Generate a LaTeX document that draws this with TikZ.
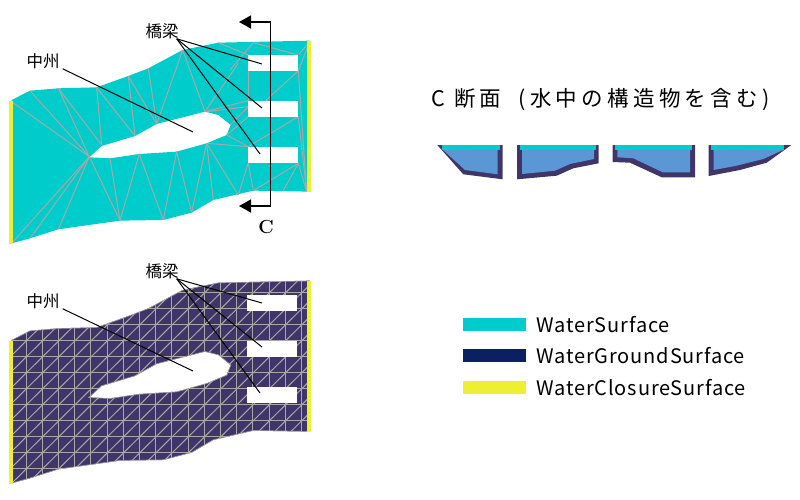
\documentclass[tikz,border=0pt]{standalone}
\usepackage{fontspec}
\usetikzlibrary{positioning, arrows.meta}
\newfontfamily\jpfont{Noto Sans CJK JP}
\newfontfamily\jptitle[LetterSpace=20]{Noto Sans CJK JP}
\newfontfamily\jplegend[LetterSpace=4.2]{Noto Sans CJK JP}
\definecolor{watertop}{HTML}{00CCCC}
\definecolor{waterbed}{HTML}{3F3568}
\definecolor{waterend}{HTML}{EEEE33}
\definecolor{waterin}{HTML}{5B97D5}
\definecolor{legendbed}{HTML}{0B1F63}
\definecolor{meshline}{HTML}{A8A8A8}
\newcommand{\riverline}{(35,300) -- (90,272) -- (175,265) -- (290,262) -- (385,228) -- (445,205) -- (548,150) -- (655,128) -- (930,122) -- (930,575) -- (760,572) -- (640,600) -- (575,638) -- (490,660) -- (360,662) -- (175,688) -- (90,715) -- (35,730) -- cycle}
\newcommand{\isleline}{(268,472) -- (305,438) -- (405,408) -- (470,372) -- (615,335) -- (655,345) -- (692,375) -- (680,405) -- (620,430) -- (530,455) -- (418,462) -- (330,475) -- cycle}
\tikzset{
  zoomed/.style={x=0.3333pt, y=-0.3333pt},
  hole/.style={fill=white},
  leader/.style={black, line width=1pt},
  mesh/.style={meshline, line width=1pt},
  edgeend/.style={waterend, line width=4pt},
  jplabel/.style={font=\jpfont\fontsize{16.5}{16.5}\selectfont, inner sep=0pt},
  legendbar/.style={minimum width=63pt, minimum height=13pt, inner sep=0pt},
  legendtext/.style={font=\jplegend\fontsize{20}{20}\selectfont, inner sep=0pt, anchor=west},
}
\begin{document}
\begin{tikzpicture}[x=1pt, y=-1pt]
  \useasboundingbox (0,0) rectangle (800,500);

  % upper plan
  \begin{scope}[zoomed]
    \fill[watertop, even odd rule] \riverline \isleline;
    \foreach \a/\b in {35/305, 90/272, 175/265, 35/730, 90/715, 175/688, 360/662}
      \draw[mesh] (\a,\b) -- (268,470);
    \foreach \a/\b/\c/\d in {
      175/265/305/435, 290/262/305/435, 290/262/405/408, 385/228/405/408,
      385/228/470/372, 445/205/470/372, 548/150/470/372, 548/150/615/335,
      715/190/615/335, 655/128/745/165, 760/128/690/210, 745/212/745/302,
      615/335/745/302, 620/335/745/320, 690/375/745/320, 680/405/745/350,
      680/405/745/440, 620/430/745/440, 620/430/715/585, 745/488/715/585,
      745/488/760/572, 760/572/895/490, 850/572/895/490, 920/575/895/490,
      895/350/920/575, 895/212/920/575, 745/440/895/350, 745/350/895/212,
      895/165/930/125, 895/212/930/125, 760/128/895/165, 330/475/360/662,
      418/462/360/662, 418/462/490/660, 530/455/490/660, 530/455/575/638,
      620/430/575/638, 620/430/640/600}
      \draw[mesh] (\a,\b) -- (\c,\d);
    \fill[hole] (745,165) rectangle (895,212);
    \fill[hole] (745,302) rectangle (895,350);
    \fill[hole] (745,440) rectangle (895,488);
    \draw[edgeend] (32,302) -- (32,732);
    \draw[edgeend] (928,122) -- (928,577);
  \end{scope}

  % lower plan
  \begin{scope}[yshift=-240pt, zoomed]
    \fill[waterbed, even odd rule] \riverline \isleline;
    \begin{scope}[even odd rule]
      \clip \riverline \isleline;
      \foreach \i in {0,...,18}
        \draw[mesh] ({30+\i*48.6},100) -- ({30+\i*48.6},760);
      \foreach \j in {0,...,14}
        \draw[mesh] (0,{111+\j*48}) -- (960,{111+\j*48});
      \foreach \i in {-1,...,18}
        \foreach \j in {0,...,14}
          \draw[mesh] ({30+\i*48.6},{111+\j*48}) -- ({30+(\i+1)*48.6},{111+(\j-1)*48});
      \draw[mesh] \riverline \isleline;
    \end{scope}
    \fill[hole] (741,165) rectangle (891,212);
    \fill[hole] (741,302) rectangle (891,350);
    \fill[hole] (741,440) rectangle (891,488);
    \draw[edgeend] (32,302) -- (32,732);
    \draw[edgeend] (928,122) -- (928,577);
  \end{scope}

  % labels and leaders
  \node[jplabel] (bridgeA) at (162,31) {橋梁};
  \node[jplabel] (isleA) at (43,61) {中州};
  \node[jplabel] (bridgeB) at (162,271) {橋梁};
  \node[jplabel] (isleB) at (43,301) {中州};
  \coordinate (bridgeA1) at (262,64);
  \coordinate (bridgeA2) at (262,108);
  \coordinate (bridgeA3) at (260,154);
  \coordinate (isleA1) at (193,132);
  \coordinate (bridgeB1) at (262,303);
  \coordinate (bridgeB2) at (262,347);
  \coordinate (bridgeB3) at (260,393);
  \coordinate (isleB1) at (193,371);
  \foreach \i in {1,2,3} {
    \draw[leader] (bridgeA.south east) ++(-2,0) -- (bridgeA\i);
    \draw[leader] (bridgeB.south east) ++(-2,0) -- (bridgeB\i);
  }
  \draw[leader] (isleA.south east) ++(3,0) -- (isleA1);
  \draw[leader] (isleB.south east) ++(3,0) -- (isleB1);

  % section mark
  \coordinate (cutTop) at (239,22);
  \coordinate (cutBot) at (239,206);
  \draw[{Triangle[length=12pt, width=13pt]}-{Triangle[length=12pt, width=13pt]}, line width=1.4pt]
    (cutTop) -| (270.5,114) |- (cutBot);
  \node[font=\bfseries\fontsize{19}{19}\selectfont, inner sep=0pt] (cutName) at (266,227) {C};

  % C section
  \node[font=\jptitle\fontsize{21.5}{21.5}\selectfont, inner sep=0pt, anchor=west] (sectionTitle) at (431,100)
    {C 断面\hspace{0.8em}(水中の構造物を含む)};

  \fill[waterbed] (437.3,145) -- (502.7,145) -- (502.7,179.3) -- (463.3,174.3) -- cycle;
  \fill[waterin] (442,145) -- (497.7,145) -- (497.7,174.3) -- (465,170) -- (442,149) -- cycle;
  \fill[watertop] (442,145) rectangle (500,150);

  \fill[waterbed] (517,145) -- (598.7,145) -- (598.7,163.3) -- (573.3,168.3) -- (556.7,175.7) -- (517,179.3) -- cycle;
  \fill[waterin] (522,145) -- (594,145) -- (594,159) -- (570,164) -- (555,170.7) -- (522,174) -- cycle;
  \fill[watertop] (519.7,145) rectangle (595.7,150);

  \fill[waterbed] (612.7,145) -- (695,145) -- (695,177.3) -- (661.7,177.3) -- (630,162.7) -- (612.7,162) -- cycle;
  \fill[waterin] (617.3,145) -- (690,145) -- (690,172.3) -- (662.7,172.3) -- (633.3,158.3) -- (617.3,157.3) -- cycle;
  \fill[watertop] (615,145) rectangle (691.7,150);

  \fill[waterbed] (708.7,145) -- (791.3,145) -- (766.7,162.7) -- (740,170) -- (708.7,176) -- cycle;
  \fill[waterin] (713.7,145) -- (783,145) -- (783,150) -- (763.3,159) -- (736.7,165.7) -- (713.7,170) -- cycle;
  \fill[watertop] (711,145) rectangle (784,150);

  % legend
  \node[legendbar, fill=watertop] (barTop) at (494.5,324.5) {};
  \node[legendbar, fill=legendbed, below=18pt of barTop] (barBed) {};
  \node[legendbar, fill=waterend, below=18pt of barBed] (barEnd) {};
  \node[legendtext, right=10pt of barTop] (nameTop) {WaterSurface};
  \node[legendtext, right=10pt of barBed] (nameBed) {WaterGroundSurface};
  \node[legendtext, right=10pt of barEnd] (nameEnd) {WaterClosureSurface};
\end{tikzpicture}
\end{document}
